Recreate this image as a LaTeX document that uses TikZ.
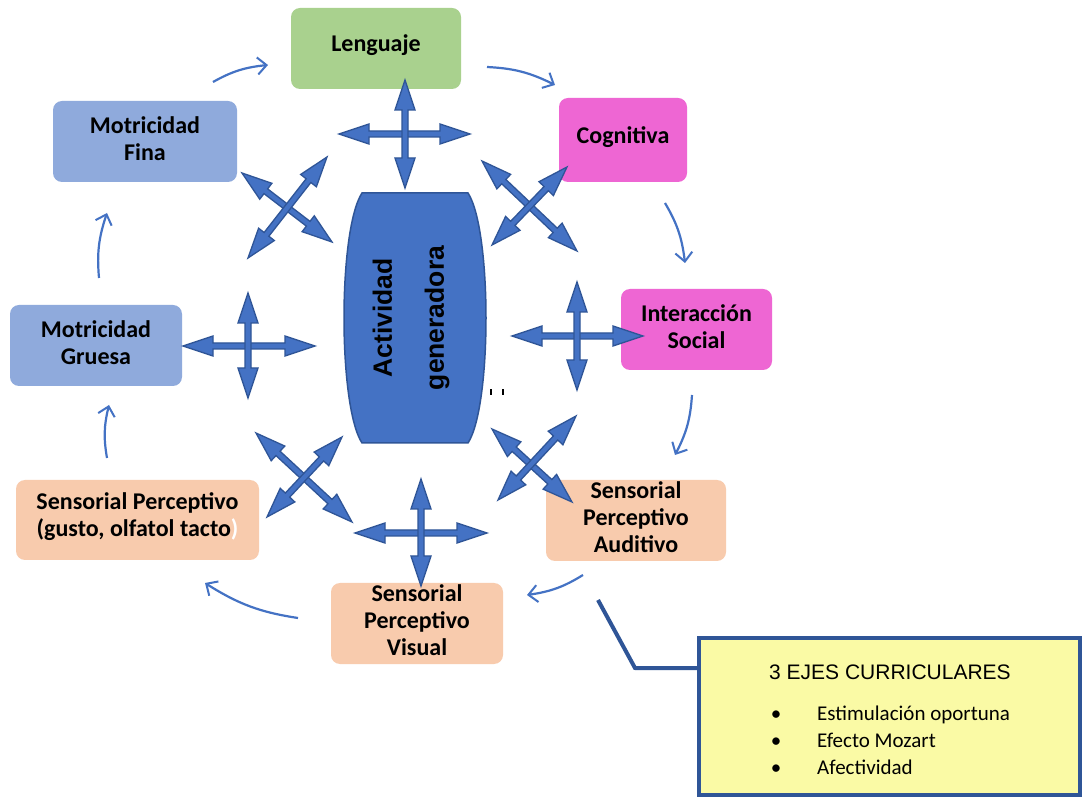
\documentclass[tikz,border=0pt]{standalone}
\usepackage{fontspec}
\setmainfont{Carlito}
\newfontfamily\arialf{Liberation Sans}
\usetikzlibrary{calc,arrows.meta,bending}

\definecolor{cgreen}{HTML}{A9D18E}
\definecolor{cpink}{HTML}{EE66D3}
\definecolor{cblue}{HTML}{8FAADC}
\definecolor{cpeach}{HTML}{F8CBAD}
\definecolor{cmain}{HTML}{4472C4}
\definecolor{cdark}{HTML}{2F5597}
\definecolor{cyel}{HTML}{FAFAA5}

\tikzset{
  box/.style={rounded corners=9pt, inner sep=0pt},
  boxtext/.style={align=center, inner sep=0pt, yshift=3pt,
    font=\fontsize{24}{27}\selectfont\bfseries},
  cyc/.style={draw=cmain, line width=2.2pt,
    -{Straight Barb[length=9pt,width=17pt,line width=2pt]}, bend left=12},
  crossst/.style={fill=cmain, draw=cdark, line width=1.3pt, line join=miter},
}

\newcommand\dblarr[2]{%
  \coordinate (dA) at (#1); \coordinate (dB) at (#2);
  \coordinate (p1) at ($(dA)!30pt!(dB)$);
  \coordinate (p2) at ($(dB)!30pt!(dA)$);
  \filldraw[crossst] (dA) -- ($(p1)!10pt!90:(dB)$) -- ($(p1)!3pt!90:(dB)$)
    -- ($(p2)!3pt!-90:(dA)$) -- ($(p2)!10pt!-90:(dA)$) -- (dB)
    -- ($(p2)!10pt!90:(dA)$) -- ($(p2)!3pt!90:(dA)$)
    -- ($(p1)!3pt!-90:(dB)$) -- ($(p1)!10pt!-90:(dB)$) -- cycle;}

\begin{document}
\begin{tikzpicture}[x=1pt,y=-1pt]
\path[use as bounding box, fill=white] (0,0) rectangle (1088,799);

% outer boxes
\node[box, fill=cgreen, minimum width=170, minimum height=81,
  label={[boxtext]center:Lenguaje}] (leng) at (376,48.5) {};
\node[box, fill=cpink, minimum width=128, minimum height=84,
  label={[boxtext]center:Cognitiva}] (cogn) at (623,140) {};
\node[box, fill=cpink, minimum width=151, minimum height=81,
  label={[boxtext]center:Interacción\\Social}] (inter) at (696.5,329.5) {};
\node[box, fill=cpeach, minimum width=180, minimum height=81,
  label={[boxtext]center:Sensorial\\Perceptivo\\Auditivo}] (audi) at (636,520.5) {};
\node[box, fill=cpeach, minimum width=172, minimum height=81,
  label={[boxtext]center:Sensorial\\Perceptivo\\Visual}] (visu) at (417,623.5) {};
\node[box, fill=cpeach, minimum width=243, minimum height=80,
  label={[boxtext]center:Sensorial Perceptivo\\(gusto, olfatol tacto\textcolor{white}{)}}] (gust) at (137.5,520) {};
\node[box, fill=cblue, minimum width=172, minimum height=81,
  label={[boxtext]center:Motricidad\\Gruesa}] (grue) at (96,345.5) {};
\node[box, fill=cblue, minimum width=184, minimum height=81,
  label={[boxtext]center:Motricidad\\Fina}] (fina) at (145,141.5) {};

% central shape
\filldraw[fill=cmain, draw=cdark, line width=1.5pt]
  (362,193) -- (468,193) .. controls (492,230) and (492,406) .. (468,443)
  -- (362,443) .. controls (338,406) and (338,230) .. (362,193) -- cycle;
\node[rotate=90, align=center, font=\arialf\bfseries\fontsize{26.5}{52}\selectfont, inner sep=0pt]
  (act) at (411,318) {Actividad\\generadora};
\fill (490,389) rectangle (492,395);
\fill (502,389) rectangle (504,395);

% four-way arrows
\dblarr{339,134}{470,134}\dblarr{405,80}{405,188}
\dblarr{242,173}{332,242}\dblarr{327,157}{248,258}
\dblarr{482,161}{577,251}\dblarr{567,167}{492,245}
\dblarr{183,346}{315,346}\dblarr{248,293}{248,398}
\dblarr{512,336}{643,336}\dblarr{577,282}{577,390}
\dblarr{256,433}{352,522}\dblarr{342,437}{267,517}
\dblarr{492,429}{572,502}\dblarr{576,416}{498,500}
\dblarr{355,533}{487,533}\dblarr{421,479}{421,586}

% cycle arrows
\coordinate (c1a) at (213,82);  \coordinate (c1b) at (268,65);
\coordinate (c2a) at (487,67);  \coordinate (c2b) at (555,85);
\coordinate (c3a) at (665,203); \coordinate (c3b) at (685,263);
\coordinate (c4a) at (692,395); \coordinate (c4b) at (675,455);
\coordinate (c5a) at (583,575); \coordinate (c5b) at (527,595);
\coordinate (c6a) at (298,618); \coordinate (c6b) at (205,583);
\coordinate (c7a) at (107,458); \coordinate (c7b) at (109,405);
\coordinate (c8a) at (99,278);  \coordinate (c8b) at (107,213);
\foreach \i in {1,...,8} { \draw[cyc] (c\i a) to (c\i b); }

% callout
\node[draw=cdark, line width=4pt, fill=cyel, minimum width=381, minimum height=157, inner sep=0pt]
  (ejes) at (889.5,716.5) {};
\node[font=\arialf\fontsize{21}{25}\selectfont, anchor=base] (ttl) at (890,679) {3 EJES CURRICULARES};
\foreach \y/\t/\n in {720/Estimulación oportuna/b1, 747/Efecto Mozart/b2, 774/Afectividad/b3} {
  \node[font=\fontsize{21}{25}\selectfont, anchor=base] (\n d) at (776,\y) {\textbullet};
  \node[font=\fontsize{21}{25}\selectfont, anchor=base west, inner sep=0pt] (\n) at (817,\y) {\t};
}
\coordinate (cl0) at (598,600);
\coordinate (cl1) at (635,668);
\draw[cdark, line width=4pt, line join=miter] (cl0) -- (cl1) -- ($(ejes.north west)!0.2!(ejes.south west)$);
\end{tikzpicture}
\end{document}
